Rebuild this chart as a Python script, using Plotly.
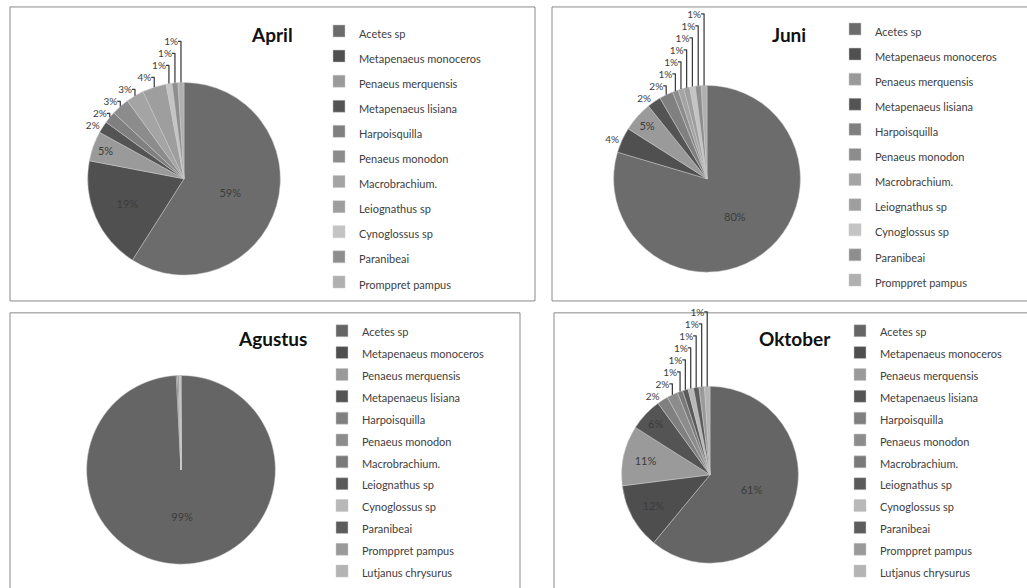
import plotly.graph_objects as go

W, H = 1027, 588

species = ["Acetes sp", "Metapenaeus monoceros", "Penaeus merquensis",
           "Metapenaeus lisiana", "Harpoisquilla", "Penaeus monodon",
           "Macrobrachium.", "Leiognathus sp", "Cynoglossus sp",
           "Paranibeai", "Promppret pampus", "Lutjanus chrysurus"]

april = [59, 19, 5, 2, 2, 3, 3, 4, 1, 1, 1]
juni = [79.6, 4.4, 5.2, 2.4, 2.4, 1, 1, 1, 1, 1, 1]
agustus = [99.2, 0.2, 0.3, 0.05, 0.05, 0.05, 0.02, 0.02, 0.02, 0.02, 0.02, 0.05]
oktober = [61, 12, 11, 6, 2, 2, 1, 1, 1, 1, 1, 1]

titles = ["April", "Juni", "Agustus", "Oktober"]

# style
top_colors = ["#6c6c6c", "#505050", "#9a9a9a", "#545454", "#808080", "#8c8c8c",
              "#a4a4a4", "#9e9e9e", "#c4c4c4", "#8e8e8e", "#b0b0b0"]
bot_colors = ["#656565", "#4e4e4e", "#9a9a9a", "#545454", "#808080", "#8c8c8c",
              "#7a7a7a", "#5a5a5a", "#b8b8b8", "#5c5c5c", "#9a9a9a", "#b4b4b4"]
FONT = "Lato"
# slightly different (equivalent) style strings keep each panel's legend separate
span_styles = ["font-size:11px", "font-size:11px;", "font-size: 11px", "font-size: 11px;"]


def px_dom(cx, cy, r):
    return dict(x=[(cx - r) / W, (cx + r) / W], y=[(H - cy - r) / H, (H - cy + r) / H])


panels = [
    dict(vals=april, colors=top_colors, center=(184, 180), r=97, legend="legend",
         lx=319, ly=13.5, lfs=17, title_xy=(272, 35)),
    dict(vals=juni, colors=top_colors, center=(707, 180), r=94, legend="legend2",
         lx=835, ly=11.5, lfs=17, title_xy=(789, 35)),
    dict(vals=agustus, colors=bot_colors, center=(181, 473), r=95, legend="legend3",
         lx=322, ly=317, lfs=14.5, title_xy=(272, 341)),
    dict(vals=oktober, colors=bot_colors, center=(710, 478), r=89, legend="legend4",
         lx=840, ly=317, lfs=14.5, title_xy=(795, 341)),
]
text_positions = [
    ["inside"] * 3 + ["outside"] * 8,
    ["inside", "outside", "inside"] + ["outside"] * 8,
    ["inside"] + ["outside"] * 11,
    ["inside"] * 4 + ["outside"] * 8,
]

fig = go.Figure()
for i, p in enumerate(panels):
    n = len(p["vals"])
    labels = ['<span style="%s">%s</span>' % (span_styles[i], s) for s in species[:n]]
    if i == 2:
        tt = ["%{percent:.0%}"] + [""] * (n - 1)
    else:
        tt = "%{percent:.0%}"
    fig.add_trace(go.Pie(
        labels=labels, values=p["vals"], sort=False, direction="clockwise",
        rotation=0, domain=px_dom(p["center"][0], p["center"][1], p["r"]),
        marker=dict(colors=p["colors"][:n], line=dict(color="#c8c8c8", width=0.5)),
        texttemplate=tt, textposition=text_positions[i],
        insidetextorientation="horizontal",
        textfont=dict(family=FONT, size=11, color="#3c3c3c"),
        insidetextfont=dict(family=FONT, size=11, color="#3c3c3c"),
        outsidetextfont=dict(family=FONT, size=10, color="#3c3c3c"),
        legend=p["legend"], showlegend=True, hoverinfo="label+percent",
    ))

legend_common = dict(xanchor="left", yanchor="top", bgcolor="rgba(0,0,0,0)",
                     borderwidth=0, traceorder="normal")
for p in panels:
    fig.layout[p["legend"]] = dict(x=p["lx"] / W, y=1 - p["ly"] / H,
                                   font=dict(family=FONT, size=p["lfs"], color="#404040"),
                                   **legend_common)

annotations = []
for p, t in zip(panels, titles):
    annotations.append(dict(x=p["title_xy"][0] / W, y=1 - p["title_xy"][1] / H,
                            xref="paper", yref="paper", text="<b>%s</b>" % t,
                            showarrow=False, xanchor="center", yanchor="middle",
                            font=dict(family=FONT, size=19, color="#111111")))

boxes = [(10, 7, 535, 303), (552, 7, 1040, 303), (10, 315, 520, 600), (554, 315, 1040, 600)]
shapes = [dict(type="rect", xref="paper", yref="paper", x0=x0 / W, x1=x1 / W,
               y0=1 - y1 / H, y1=1 - y0 / H, line=dict(color="#8a8a8a", width=1),
               layer="below") for (x0, y0, x1, y1) in boxes]

fig.update_layout(width=W, height=H, margin=dict(l=0, r=0, t=0, b=0),
                  paper_bgcolor="white", plot_bgcolor="white",
                  annotations=annotations, shapes=shapes,
                  font=dict(family=FONT))
fig.write_html("out.html")
